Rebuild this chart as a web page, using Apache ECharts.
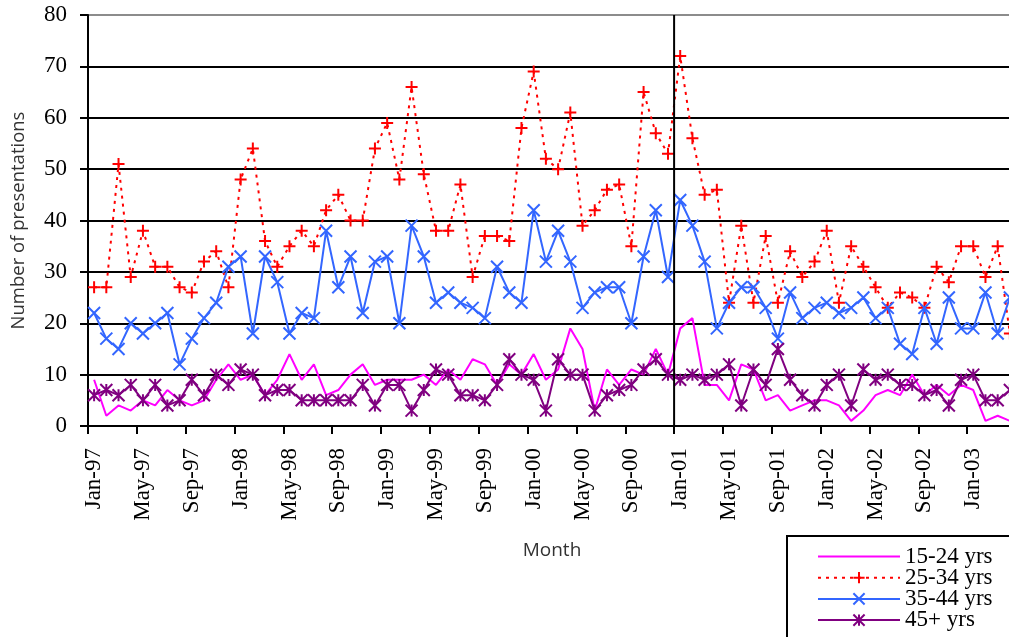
<!DOCTYPE html>
<html>
<head>
<meta charset="utf-8">
<script src="https://cdn.jsdelivr.net/npm/echarts@6/dist/echarts.min.js"></script>
<style>
html,body{margin:0;padding:0;background:#fff;}
#chart{width:1009px;height:637px;}
</style>
</head>
<body>
<div id="chart"></div>
<script>
// ---- Data ----
const monthNames = ['Jan','Feb','Mar','Apr','May','Jun','Jul','Aug','Sep','Oct','Nov','Dec'];
const startYear = 1997, monthCount = 76; // Jan-97 .. Apr-03
const categories = [];
for (let i = 0; i < monthCount; i++) {
  const y = startYear + Math.floor(i / 12);
  categories.push(monthNames[i % 12] + '-' + String(y).slice(2));
}

const age15_24 = [9,2,4,3,5,4,7,5,4,5,9,12,9,10,6,9,14,9,12,6,7,10,12,8,9,9,9,10,8,11,9,13,12,8,12,10,14,9,11,19,15,3,11,8,11,10,15,10,19,21,8,8,5,12,11,5,6,3,4,5,5,4,1,3,6,7,6,10,6,8,6,8,7,1,2,1];
const age25_34 = [27,27,51,29,38,31,31,27,26,32,34,27,48,54,36,31,35,38,35,42,45,40,40,54,59,48,66,49,38,38,47,29,37,37,36,58,69,52,50,61,39,42,46,47,35,65,57,53,72,56,45,46,24,39,24,37,24,34,29,32,38,24,35,31,27,23,26,25,23,31,28,35,35,29,35,18];
const age35_44 = [22,17,15,20,18,20,22,12,17,21,24,31,33,18,33,28,18,22,21,38,27,33,22,32,33,20,39,33,24,26,24,23,21,31,26,24,42,32,38,32,23,26,27,27,20,33,42,29,44,39,32,19,24,27,27,23,17,26,21,23,24,22,23,25,21,23,16,14,23,16,25,19,19,26,18,25];
const age45plus = [6,7,6,8,5,8,4,5,9,6,10,8,11,10,6,7,7,5,5,5,5,5,8,4,8,8,3,7,11,10,6,6,5,8,13,10,9,3,13,10,10,3,6,7,8,11,13,10,9,10,9,10,12,4,11,8,15,9,6,4,8,10,4,11,9,10,8,8,6,7,4,9,10,5,5,7];

const seriesNames = ['15-24 yrs','25-34 yrs','35-44 yrs','45+ yrs'];
const yTicks = [0,10,20,30,40,50,60,70,80];
const dividerMonth = 'Jan-01';

// ---- Chart ----
const serif = '"Liberation Serif", "Times New Roman", serif';
const sans = '"Open Sans", "Noto Sans", sans-serif';
const plusPath = 'path://M5 0 L5 10 M0 5 L10 5';
const crossPath = 'path://M0 0 L10 10 M10 0 L0 10';
const starPath = 'path://M0 0 L10 10 M10 0 L0 10 M5 0 L5 10';

const yMin = yTicks[0], yMax = yTicks[yTicks.length - 1];
const dividerIndex = categories.indexOf(dividerMonth);

const chart = echarts.init(document.getElementById('chart'), null, {renderer: 'canvas'});
chart.setOption({
  animation: false,
  backgroundColor: '#fff',
  grid: {left: 88, top: 15, bottom: 211, right: -7, containLabel: false, outerBoundsMode: 'none'},
  xAxis: [{
    type: 'category',
    data: categories,
    boundaryGap: true,
    name: 'Month',
    nameLocation: 'middle',
    nameGap: 115,
    nameMoveOverlap: false,
    nameTextStyle: {fontFamily: sans, fontSize: 19, color: '#333'},
    axisLine: {lineStyle: {color: '#000', width: 2}},
    axisTick: {show: true, interval: 3, length: 8, lineStyle: {color: '#000', width: 2}},
    axisLabel: {interval: 3, rotate: 90, margin: 22, fontFamily: serif, fontSize: 23, color: '#000'},
    splitLine: {show: false}
  }, {
    type: 'value',
    min: 0,
    max: monthCount,
    show: false
  }],
  yAxis: {
    type: 'value',
    min: yMin,
    max: yMax,
    interval: yTicks[1] - yTicks[0],
    name: 'Number of presentations',
    nameLocation: 'middle',
    nameGap: 60,
    nameMoveOverlap: false,
    nameTextStyle: {fontFamily: sans, fontSize: 18.5, color: '#333'},
    axisLine: {show: true, lineStyle: {color: '#000', width: 2}},
    axisTick: {show: true, length: 8, lineStyle: {color: '#000', width: 2}},
    axisLabel: {margin: 21, fontFamily: serif, fontSize: 23, color: '#000'},
    splitLine: {show: true, lineStyle: {width: 2, color: ['#000','#000','#000','#000','#000','#000','#000','#000','#8c8c8c']}}
  },
  legend: {
    orient: 'vertical',
    left: 787,
    top: 536,
    height: 200,
    padding: [9, 40, 20, 30],
    itemWidth: 82,
    itemHeight: 14,
    itemGap: -1.8,
    borderColor: '#000',
    borderWidth: 2,
    backgroundColor: '#fff',
    data: seriesNames,
    textStyle: {fontFamily: serif, fontSize: 23, color: '#000', lineHeight: 21.5}
  },
  series: [{
    name: seriesNames[0],
    type: 'line',
    data: age15_24,
    symbol: 'circle',
    showSymbol: false,
    lineStyle: {color: '#FF00FF', width: 2},
    itemStyle: {color: 'rgba(255,0,255,0)'},
    z: 2
  }, {
    name: seriesNames[1],
    type: 'line',
    data: age25_34,
    symbol: plusPath,
    symbolSize: 12,
    showAllSymbol: true,
    lineStyle: {color: '#FF0000', width: 2, type: [3, 5]},
    itemStyle: {color: '#FF0000', borderColor: '#FF0000', borderWidth: 2},
    z: 3
  }, {
    name: seriesNames[2],
    type: 'line',
    data: age35_44,
    symbol: crossPath,
    symbolSize: 12,
    showAllSymbol: true,
    lineStyle: {color: '#3366FF', width: 2},
    itemStyle: {color: '#3366FF', borderColor: '#3366FF', borderWidth: 2},
    z: 4
  }, {
    name: seriesNames[3],
    type: 'line',
    data: age45plus,
    symbol: starPath,
    symbolSize: 12,
    showAllSymbol: true,
    lineStyle: {color: '#800080', width: 2},
    itemStyle: {color: '#800080', borderColor: '#800080', borderWidth: 2},
    z: 5
  }, {
    type: 'line',
    xAxisIndex: 1,
    data: [[dividerIndex, yMin], [dividerIndex, yMax]],
    symbol: 'none',
    lineStyle: {color: '#000', width: 2},
    silent: true,
    z: 6
  }]
});
</script>
</body>
</html>
